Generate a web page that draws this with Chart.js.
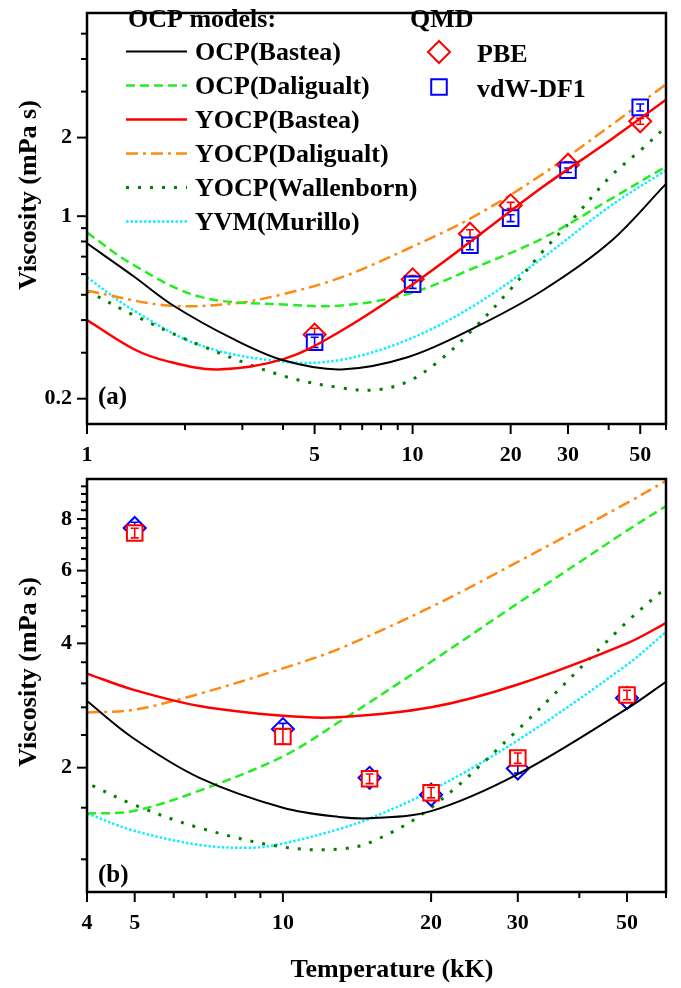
<!DOCTYPE html>
<html>
<head>
<meta charset="utf-8">
<script src="https://cdn.jsdelivr.net/npm/chart.js@4.4.1/dist/chart.umd.min.js"></script>
<style>
  html, body { margin: 0; padding: 0; background: #fff; }
  #wrap { position: relative; width: 681px; height: 988px; overflow: hidden; background: #fff; }
  canvas { position: absolute; left: 0; }
  #panelA { top: 0; }
  #panelB { top: 466px; }
</style>
</head>
<body>
<div id="wrap">
  <canvas id="panelA" width="681" height="466" style="width:681px;height:466px"></canvas>
  <canvas id="panelB" width="681" height="522" style="width:681px;height:522px"></canvas>
</div>
<script>
// ---------- Panel (a): model curves, temperature in kK, viscosity in mPa s ----------
const aOcpBasteaT   = [1, 1.39, 1.84, 2.82, 4.03, 6.04, 9.7, 15.5, 25, 40.3, 60];
const aOcpBasteaV   = [0.787, 0.589, 0.455, 0.338, 0.28, 0.259, 0.289, 0.374, 0.518, 0.794, 1.33];
const aOcpDaliT     = [1, 1.39, 2.23, 4.03, 6.04, 9.7, 15.5, 25, 40.3, 60];
const aOcpDaliV     = [0.865, 0.65, 0.491, 0.459, 0.455, 0.504, 0.635, 0.821, 1.157, 1.55];
const aYocpBasteaT  = [1, 1.39, 1.77, 2.52, 4.03, 6.04, 9.7, 15.5, 25, 40.3, 60];
const aYocpBasteaV  = [0.40, 0.31, 0.278, 0.259, 0.284, 0.364, 0.534, 0.821, 1.29, 1.95, 2.79];
const aYocpDaliT    = [1, 1.77, 2.82, 4.03, 6.04, 9.7, 15.5, 25, 40.3, 60];
const aYocpDaliV    = [0.518, 0.455, 0.463, 0.504, 0.583, 0.752, 1.0, 1.446, 2.21, 3.2];
const aYocpWallT    = [1, 1.39, 2.23, 4.03, 6.04, 7.64, 9.7, 12.3, 15.5, 19.8, 25, 31.6, 40.3, 50.9, 60];
const aYocpWallV    = [0.518, 0.418, 0.32, 0.244, 0.22, 0.216, 0.233, 0.285, 0.374, 0.518, 0.729, 1.0, 1.41, 1.82, 2.2];
const aYvmT         = [1, 1.39, 2.23, 4.03, 6.04, 9.7, 15.5, 25, 40.3, 60];
const aYvmV         = [0.583, 0.436, 0.32, 0.277, 0.282, 0.337, 0.456, 0.69, 1.09, 1.5];
// QMD results
const aQmdT   = [5, 10, 15, 20, 30, 50];
const aPbeV   = [0.352, 0.573, 0.857, 1.10, 1.574, 2.31];
const aPbeErr = [0.02, 0.02, 0.03, 0.03, 0.04, 0.06];
const aVdwV   = [0.329, 0.549, 0.774, 0.983, 1.50, 2.61];
const aVdwErr = [0.015, 0.02, 0.03, 0.03, 0.03, 0.08];
// axis ticks
const aXMajor = [1, 5, 10, 20, 30, 50];
const aXMinor = [2, 3, 4, 6, 7, 8, 9, 40, 60];
const aYMajor = [0.2, 1, 2];
const aYMinor = [0.3, 0.4, 0.5, 0.6, 0.7, 0.8, 0.9, 3, 4, 5];

// ---------- Panel (b) ----------
const bOcpBasteaT   = [4, 4.96, 6.77, 10, 13.0, 15.3, 20, 30, 50, 60];
const bOcpBasteaV   = [2.9, 2.36, 1.89, 1.60, 1.52, 1.51, 1.57, 1.93, 2.78, 3.23];
const bOcpDaliT     = [4, 4.96, 6.77, 10, 13.0, 20, 30, 50, 60];
const bOcpDaliV     = [1.55, 1.57, 1.76, 2.13, 2.58, 3.61, 5.0, 7.5, 8.6];
const bYocpBasteaT  = [4, 4.96, 6.77, 10, 13.0, 20, 30, 50, 60];
const bYocpBasteaV  = [3.38, 3.09, 2.82, 2.67, 2.65, 2.80, 3.18, 4.0, 4.48];
const bYocpDaliT    = [4, 4.96, 6.77, 10, 13.0, 20, 30, 50, 60];
const bYocpDaliV    = [2.72, 2.76, 3.02, 3.48, 3.88, 4.90, 6.30, 8.75, 9.9];
const bYocpWallT    = [4.1, 4.96, 6.77, 10, 13.0, 15.3, 20, 30, 50, 60];
const bYocpWallV    = [1.81, 1.63, 1.43, 1.285, 1.27, 1.33, 1.60, 2.47, 4.51, 5.46];
const bYvmT         = [4, 4.96, 6.77, 8.58, 10, 13.0, 15.3, 20, 30, 50, 60];
const bYvmV         = [1.55, 1.41, 1.30, 1.28, 1.31, 1.42, 1.52, 1.76, 2.33, 3.55, 4.26];
const bQmdT   = [5, 10, 15, 20, 30, 50];
const bPbeV   = [7.61, 2.48, 1.89, 1.72, 1.99, 2.95];
const bPbeErr = [0.25, 0.08, 0.05, 0.05, 0.05, 0.07];
const bVdwV   = [7.40, 2.38, 1.88, 1.74, 2.11, 3.0];
const bVdwErr = [0.2, 0.1, 0.05, 0.05, 0.06, 0.08];
const bXMajor = [4, 5, 10, 20, 30, 50];
const bXMinor = [6, 7, 8, 9, 40, 60];
const bYMajor = [2, 4, 6, 8];
const bYMinor = [1.2, 1.6, 2.4, 2.8, 3.2, 3.6, 4.4, 4.8, 5.2, 5.6, 6.4, 6.8, 7.2, 7.6, 8.4, 8.8, 9.2, 9.6];

// line styles of the models
const C_BLACK = '#000000', C_GREEN = '#22ee22', C_RED = '#ff0000',
      C_ORANGE = '#ff8a12', C_DKGREEN = '#008000', C_CYAN = '#11eeff',
      C_BLUE = '#0000ff';

const FONT = "'Liberation Serif', 'Times New Roman', serif";
Chart.defaults.font.family = FONT;
Chart.defaults.font.weight = 'bold';
Chart.defaults.color = '#000';

function pts(T, V) { return T.map((t, i) => ({ x: t, y: V[i] })); }

function curve(label, T, V, color, width, dash, order) {
  return {
    type: 'line', label, data: pts(T, V),
    borderColor: color, backgroundColor: color, borderWidth: width,
    borderDash: dash, pointRadius: 0, pointHoverRadius: 0,
    tension: 0.35, fill: false, order
  };
}

function markers(label, T, V, E, color, style, order) {
  return {
    type: 'scatter', label, data: pts(T, V), errors: E,
    pointStyle: style, pointRadius: 11, pointHoverRadius: 11,
    pointBorderWidth: 2, borderColor: color, pointBorderColor: color,
    pointBackgroundColor: '#ffffff', backgroundColor: '#ffffff', order
  };
}

function tickBuilder(major, minor) {
  return function (scale) {
    const all = major.concat(minor).sort((p, q) => p - q);
    scale.ticks = all.map(v => ({ value: v }));
  };
}

function axisX(min, max, major, minor, height) {
  return {
    type: 'logarithmic', min, max,
    afterBuildTicks: tickBuilder(major, minor),
    afterFit(s) { s.height = height; s.paddingLeft = 0; s.paddingRight = 0; s.paddingTop = 0; s.paddingBottom = 0; },
    grid: { display: false, drawTicks: false },
    border: { display: false },
    ticks: {
      autoSkip: false, maxRotation: 0, minRotation: 0, padding: 20,
      font: { size: 22, weight: 'bold', lineHeight: 1 },
      callback: v => (major.includes(v) ? String(v) : '')
    }
  };
}

function axisY(min, max, major, minor) {
  return {
    type: 'logarithmic', min, max,
    afterBuildTicks: tickBuilder(major, minor),
    afterFit(s) { s.width = 87; s.paddingLeft = 0; s.paddingRight = 0; s.paddingTop = 0; s.paddingBottom = 0; },
    grid: { display: false, drawTicks: false },
    border: { display: false },
    ticks: {
      autoSkip: false, padding: 15,
      font: { size: 22, weight: 'bold', lineHeight: 1 },
      callback: v => (major.includes(v) ? String(v) : '')
    }
  };
}

// error bars of the QMD points
const errorBars = {
  id: 'errorBars',
  afterDatasetDraw(chart, args) {
    const ds = chart.data.datasets[args.index];
    if (!ds.errors) return;
    const ys = chart.scales.y, ctx = chart.ctx;
    ctx.save();
    ctx.strokeStyle = ds.borderColor;
    ctx.lineWidth = 1.6;
    args.meta.data.forEach((el, j) => {
      const v = ds.data[j].y, e = ds.errors[j];
      const y1 = ys.getPixelForValue(v + e), y2 = ys.getPixelForValue(v - e);
      ctx.beginPath();
      ctx.moveTo(el.x, y1); ctx.lineTo(el.x, y2);
      ctx.moveTo(el.x - 4, y1); ctx.lineTo(el.x + 4, y1);
      ctx.moveTo(el.x - 4, y2); ctx.lineTo(el.x + 4, y2);
      ctx.stroke();
    });
    ctx.restore();
  }
};

// frame, tick marks and the panel texts
function makeFrame(cfg) {
  return {
    id: 'frame',
    afterDraw(chart) {
      const { ctx, chartArea: a, scales } = chart;
      ctx.save();
      ctx.strokeStyle = '#000';
      ctx.lineWidth = 2;
      scales.x.ticks.forEach(t => {
        const px = scales.x.getPixelForValue(t.value);
        const len = cfg.xMajor.includes(t.value) ? 10 : 6;
        ctx.beginPath(); ctx.moveTo(px, a.bottom); ctx.lineTo(px, a.bottom + len); ctx.stroke();
      });
      scales.y.ticks.forEach(t => {
        const py = scales.y.getPixelForValue(t.value);
        const len = cfg.yMajor.includes(t.value) ? 10 : 6;
        ctx.beginPath(); ctx.moveTo(a.left, py); ctx.lineTo(a.left - len, py); ctx.stroke();
      });
      ctx.lineWidth = 2.5;
      ctx.strokeRect(a.left, a.top, a.right - a.left, a.bottom - a.top);

      ctx.fillStyle = '#000';
      // y title
      ctx.font = 'bold 26px ' + FONT;
      ctx.textAlign = 'center';
      ctx.textBaseline = 'middle';
      ctx.save();
      ctx.translate(cfg.yTitle.x, cfg.yTitle.y);
      ctx.rotate(-Math.PI / 2);
      ctx.fillText(cfg.yTitle.text, 0, 0);
      ctx.restore();
      // x title
      if (cfg.xTitle) {
        ctx.textBaseline = 'alphabetic';
        ctx.fillText(cfg.xTitle.text, cfg.xTitle.x, cfg.xTitle.y);
      }
      // panel tag
      ctx.font = 'bold 25px ' + FONT;
      ctx.textAlign = 'left';
      ctx.textBaseline = 'alphabetic';
      ctx.fillText(cfg.tag.text, cfg.tag.x, cfg.tag.y);

      if (cfg.legend) drawLegend(chart);
      ctx.restore();
    }
  };
}

function drawLegend(chart) {
  const ctx = chart.ctx;
  const ds = chart.data.datasets;
  ctx.save();
  ctx.fillStyle = '#000';
  ctx.font = 'bold 26px ' + FONT;
  ctx.textAlign = 'left';
  ctx.textBaseline = 'alphabetic';
  ctx.fillText('OCP models:', 128, 27);
  ctx.fillText('QMD', 410, 27);
  const lines = ds.filter(d => d.type === 'line');
  lines.forEach((d, i) => {
    const base = 60 + 34 * i;
    const cy = base - 8.5;
    ctx.save();
    ctx.strokeStyle = d.borderColor;
    ctx.lineWidth = d.borderWidth;
    ctx.setLineDash(d.borderDash || []);
    ctx.beginPath(); ctx.moveTo(126, cy); ctx.lineTo(187, cy); ctx.stroke();
    ctx.restore();
    ctx.fillText(d.label, 195, base);
  });
  const pm = ds.filter(d => d.type === 'scatter');
  pm.forEach((d, i) => {
    const cy = 52 + 35 * i, cx = 439;
    ctx.save();
    ctx.strokeStyle = d.borderColor;
    ctx.lineWidth = 2;
    ctx.fillStyle = '#fff';
    ctx.beginPath();
    if (d.pointStyle === 'rectRot') {
      ctx.moveTo(cx - 11, cy); ctx.lineTo(cx, cy - 11); ctx.lineTo(cx + 11, cy); ctx.lineTo(cx, cy + 11); ctx.closePath();
    } else {
      const h = 11 * Math.SQRT1_2;
      ctx.rect(cx - h, cy - h, 2 * h, 2 * h);
    }
    ctx.fill(); ctx.stroke();
    ctx.restore();
    ctx.fillText(d.label, 477, cy + 9.5);
  });
  ctx.restore();
}

function baseOptions(xAxis, yAxis, padTop) {
  return {
    responsive: false, animation: false, devicePixelRatio: 1,
    layout: { padding: { left: 0, right: 15, top: padTop, bottom: 0 } },
    plugins: { legend: { display: false }, tooltip: { enabled: false } },
    events: [],
    scales: { x: xAxis, y: yAxis }
  };
}

// Panel (a)
new Chart(document.getElementById('panelA'), {
  type: 'line',
  data: {
    datasets: [
      curve('OCP(Bastea)', aOcpBasteaT, aOcpBasteaV, C_BLACK, 2, [], 0),
      curve('OCP(Daligualt)', aOcpDaliT, aOcpDaliV, C_GREEN, 2.5, [9, 5], 3),
      curve('YOCP(Bastea)', aYocpBasteaT, aYocpBasteaV, C_RED, 2.5, [], 0),
      curve('YOCP(Daligualt)', aYocpDaliT, aYocpDaliV, C_ORANGE, 2.5, [12, 5, 3, 5], 3),
      curve('YOCP(Wallenborn)', aYocpWallT, aYocpWallV, C_DKGREEN, 3, [3, 9], 3),
      curve('YVM(Murillo)', aYvmT, aYvmV, C_CYAN, 2.5, [2.5, 2], 3),
      markers('PBE', aQmdT, aPbeV, aPbeErr, C_RED, 'rectRot', 2),
      markers('vdW-DF1', aQmdT, aVdwV, aVdwErr, C_BLUE, 'rect', 1)
    ]
  },
  options: baseOptions(axisX(1, 60, aXMajor, aXMinor, 42), axisY(0.16, 6, aYMajor, aYMinor), 1),
  plugins: [errorBars, makeFrame({
    xMajor: aXMajor, yMajor: aYMajor,
    yTitle: { text: 'Viscosity (mPa s)', x: 29, y: 195 },
    tag: { text: '(a)', x: 98, y: 404 },
    legend: true
  })]
});

// Panel (b)
new Chart(document.getElementById('panelB'), {
  type: 'line',
  data: {
    datasets: [
      curve('OCP(Bastea)', bOcpBasteaT, bOcpBasteaV, C_BLACK, 2, [], 0),
      curve('OCP(Daligualt)', bOcpDaliT, bOcpDaliV, C_GREEN, 2.5, [9, 5], 3),
      curve('YOCP(Bastea)', bYocpBasteaT, bYocpBasteaV, C_RED, 2.5, [], 0),
      curve('YOCP(Daligualt)', bYocpDaliT, bYocpDaliV, C_ORANGE, 2.5, [12, 5, 3, 5], 3),
      curve('YOCP(Wallenborn)', bYocpWallT, bYocpWallV, C_DKGREEN, 3, [3, 9], 3),
      curve('YVM(Murillo)', bYvmT, bYvmV, C_CYAN, 2.5, [2.5, 2], 3),
      markers('PBE', bQmdT, bPbeV, bPbeErr, C_BLUE, 'rectRot', 2),
      markers('vdW-DF1', bQmdT, bVdwV, bVdwErr, C_RED, 'rect', 1)
    ]
  },
  options: baseOptions(axisX(4, 60, bXMajor, bXMinor, 96), axisY(1, 10, bYMajor, bYMinor), 4),
  plugins: [errorBars, makeFrame({
    xMajor: bXMajor, yMajor: bYMajor,
    yTitle: { text: 'Viscosity (mPa s)', x: 29, y: 206 },
    xTitle: { text: 'Temperature (kK)', x: 392, y: 511 },
    tag: { text: '(b)', x: 98, y: 416 },
    legend: false
  })]
});
</script>
</body>
</html>
